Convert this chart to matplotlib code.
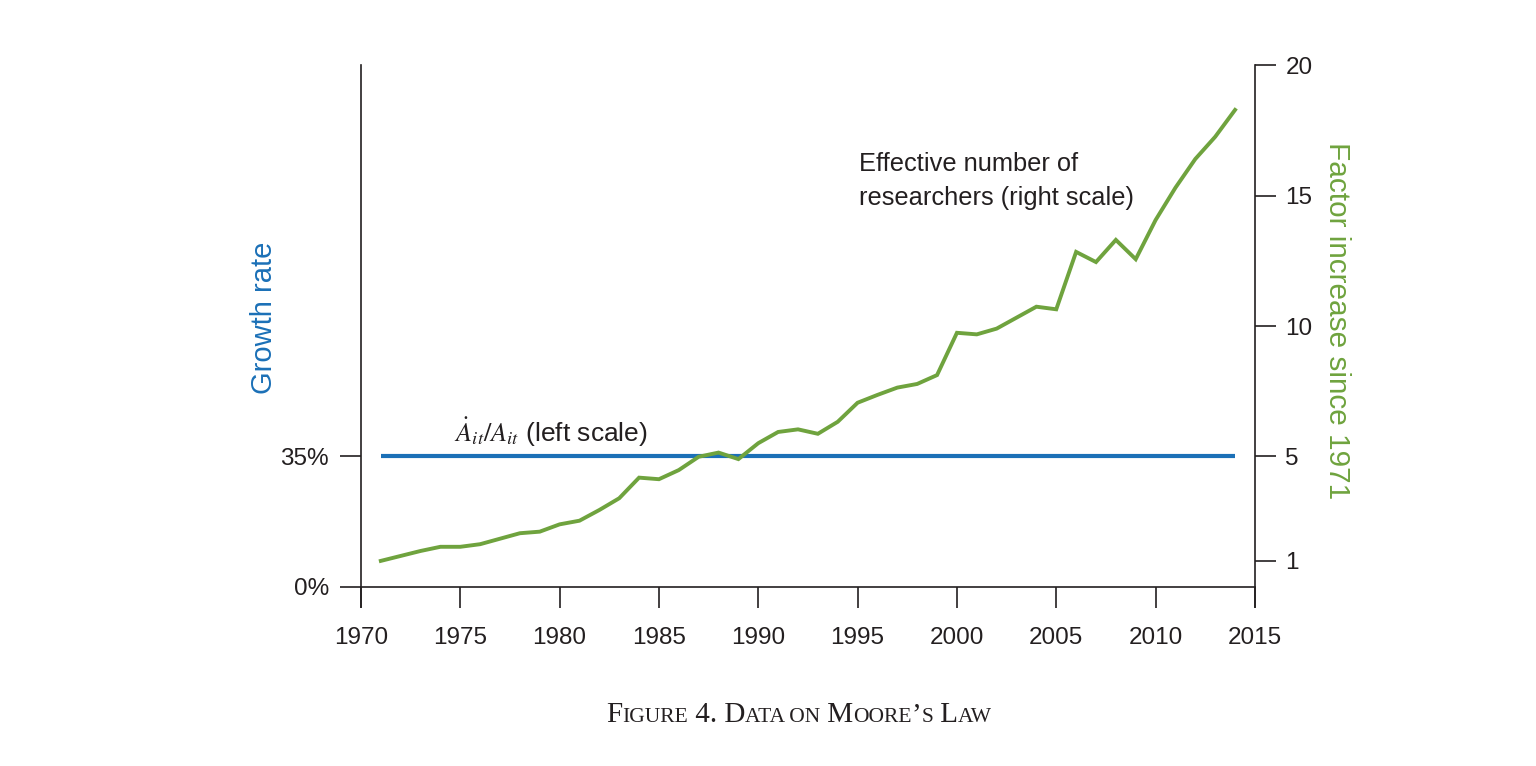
import numpy as np
import matplotlib.pyplot as plt

plt.rcParams['font.family'] = ['Liberation Sans', 'DejaVu Sans']
plt.rcParams['mathtext.fontset'] = 'stix'

# Data
years = list(range(1971, 2015))
researchers = [1.00, 1.19, 1.38, 1.54, 1.54, 1.64, 1.85, 2.06, 2.12, 2.40,
               2.54, 2.95, 3.40, 4.19, 4.13, 4.48, 4.99, 5.15, 4.90, 5.51,
               5.94, 6.04, 5.87, 6.33, 7.06, 7.36, 7.64, 7.78, 8.12, 9.74,
               9.68, 9.90, 10.32, 10.74, 10.64, 12.84, 12.45, 13.30, 12.56, 14.06,
               15.30, 16.40, 17.25, 18.28]
growth_years = [1971, 2014]
growth_rate = [35, 35]

x_ticks = [1970, 1975, 1980, 1985, 1990, 1995, 2000, 2005, 2010, 2015]
left_ticks = [0, 35]
left_labels = ['0%', '35%']
right_ticks = [1, 5, 10, 15, 20]

blue = '#1b70b7'
green = '#6fa33e'
dark = '#231f20'

fig = plt.figure(figsize=(15.36, 7.66), dpi=100)
ax = fig.add_axes([0.2350, 0.2076, 0.5820, 0.7075])
ax2 = ax.twinx()

ymin = -0.766
ax2.set_ylim(ymin, 20)
ax.set_ylim(ymin * 7, 140)
ax.set_xlim(1970, 2015)

ax.plot(growth_years, growth_rate, color=blue, lw=3, solid_capstyle='butt', zorder=3)
ax2.plot(years, researchers, color=green, lw=2.8, solid_joinstyle='miter')

for a in (ax, ax2):
    a.spines['top'].set_visible(False)
    for s in a.spines.values():
        s.set_color(dark)
        s.set_linewidth(1.2)
ax.spines['bottom'].set_position(('data', 0))
ax2.spines['bottom'].set_visible(False)
ax2.spines['left'].set_visible(False)
ax.spines['right'].set_visible(False)

ax.set_xticks(x_ticks)
ax.set_yticks(left_ticks)
ax.set_yticklabels(left_labels)
ax2.set_yticks(right_ticks)
ax.tick_params(axis='both', direction='out', length=15, width=1.2, color=dark,
               labelsize=17.5, labelcolor=dark, pad=8)
ax.tick_params(axis='x', pad=14)
ax2.tick_params(axis='y', direction='out', length=15, width=1.2, color=dark,
                labelsize=17.5, labelcolor=dark, pad=7)

ax.set_ylabel('Growth rate', color=blue, fontsize=21)
ax.yaxis.set_label_coords(-0.093, 0.533)
ax2.set_ylabel('Factor increase since 1971', color=green, fontsize=21.4,
               rotation=270)
ax2.yaxis.set_label_coords(1.108, 0.528)

ax2.text(1995.05, 15.55, 'Effective number of\nresearchers (right scale)',
         fontsize=18.3, color=dark, ha='left', va='center', linespacing=1.5)
ax.text(1974.7, 37.0, r'$\dot{A}_{it}/A_{it}$ (left scale)',
        fontsize=19, color=dark, ha='left', va='bottom')

# caption in small caps, built from pieces
pieces = [('F', 21), ('IGURE', 15.5), (' 4. D', 21), ('ATA ON', 15.5), (' M', 21),
          ('OORE', 15.5), ('\u2019', 21), ('S', 15.5), (' L', 21), ('AW', 15.5)]
renderer = fig.canvas.get_renderer()
texts = []
x = 0.0
for s, size in pieces:
    t = fig.text(x, 1 - 722 / 766, s, fontsize=size, family='Liberation Serif',
                 color=dark, ha='left', va='baseline')
    w = t.get_window_extent(renderer).width / fig.bbox.width
    texts.append((t, x))
    x += w
start = 799 / 1536 - x / 2
for t, off in texts:
    t.set_x(start + off)

fig.savefig('out.png', dpi=100, facecolor='white')
